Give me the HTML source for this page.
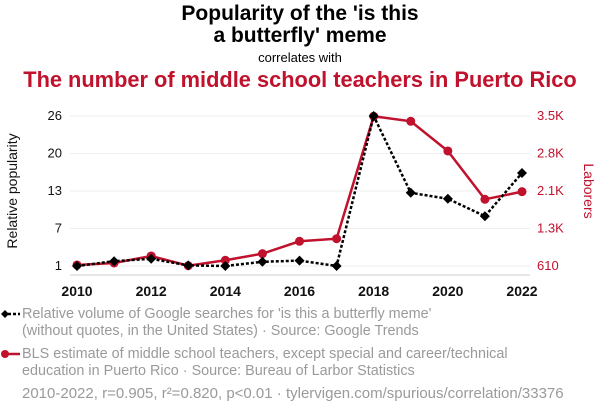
<!DOCTYPE html>
<html><head><meta charset="utf-8"><style>
body{margin:0;width:600px;height:414px;background:#fff;font-family:"Liberation Sans",sans-serif;overflow:hidden;position:relative}
.t{position:absolute;left:0;width:600px;text-align:center}
.lg{position:absolute;left:22px;color:#9a9a9a;font-size:14.4px;line-height:17px;white-space:nowrap}
</style></head><body>
<div class="t" style="top:3px;font-size:21px;font-weight:bold;line-height:22px">Popularity of the 'is this<br>a butterfly' meme</div>
<div class="t" style="top:50px;font-size:13px">correlates with</div>
<div class="t" style="top:67px;font-size:21.8px;font-weight:bold;color:#c0112d">The number of middle school teachers in Puerto Rico</div>
<svg id="c" width="600" height="414" style="position:absolute;left:0;top:0"></svg>
<div class="lg" style="top:306px">Relative volume of Google searches for 'is this a butterfly meme'<br>(without quotes, in the United States) · Source: Google Trends</div>
<div class="lg" style="top:346px">BLS estimate of middle school teachers, except special and career/technical<br>education in Puerto Rico · Source: Bureau of Larbor Statistics</div>
<div class="lg" style="top:385px;font-size:15px">2010-2022, r=0.905, r²=0.820, p&lt;0.01 · tylervigen.com/spurious/correlation/33376</div>
<script>
const years=[2010,2011,2012,2013,2014,2015,2016,2017,2018,2019,2020,2021,2022];
const google=[1,1.8,2.2,1.1,1,1.7,1.9,1,26,13.2,12.2,9.3,16.5];
const teachers=[630,668,803,616,720,848,1086,1136,3494,3398,2826,1895,2042];
const leftTicks=[1,7,13,20,26];
const rightTickLabels=["610","1.3K","2.1K","2.8K","3.5K"];
const xTicks=[2010,2012,2014,2016,2018,2020,2022];
const NS="http://www.w3.org/2000/svg",s=document.getElementById('c');
const x=v=>77+(v-2010)*(522-77)/12;
const yl=v=>266-(v-1)*150/25;
const yr=v=>266-(v-610)*150/(3500-610);
function el(t,a,p){const e=document.createElementNS(NS,t);for(const k in a)e.setAttribute(k,a[k]);(p||s).appendChild(e);return e;}
leftTicks.forEach((t,i)=>{
const y=266-i*150/(leftTicks.length-1);
const g=el('line',{x1:70,x2:530,y1:y,y2:y,stroke:'#eee'});


const a=el('text',{x:62,y:y+4,'text-anchor':'end','font-size':13,fill:'#111'});a.textContent=t;


const b=el('text',{x:537,y:y+4,'font-size':13,fill:'#c0112d'});b.textContent=rightTickLabels[i];


});
const ax=el('line',{x1:70,x2:530,y1:275,y2:275,stroke:'#ccc'});


xTicks.forEach(t=>{const e=el('text',{x:x(t),y:296,'text-anchor':'middle','font-size':14,'font-weight':'bold',fill:'#111'});e.textContent=t;

});
const yt=el('text',{x:0,y:0,transform:'translate(17,191) rotate(-90)','text-anchor':'middle','font-size':14,fill:'#111'});yt.textContent='Relative popularity';


const yt2=el('text',{x:0,y:0,transform:'translate(584,191) rotate(90)','text-anchor':'middle','font-size':14,fill:'#c0112d'});yt2.textContent='Laborers';


const rl=el('polyline',{points:years.map((v,i)=>x(v)+','+yr(teachers[i])).join(' '),fill:'none',stroke:'#c0112d','stroke-width':2.5});


years.forEach((v,i)=>{const c=el('circle',{cx:x(v),cy:yr(teachers[i]),r:4.5,fill:'#c0112d'});

});
const bl=el('polyline',{points:years.map((v,i)=>x(v)+','+yl(google[i])).join(' '),fill:'none',stroke:'#000','stroke-width':2.5,'stroke-dasharray':'3,2'});


years.forEach((v,i)=>{const cx=x(v),cy=yl(google[i]);const p=el('polygon',{points:`${cx},${cy-5} ${cx+5},${cy} ${cx},${cy+5} ${cx-5},${cy}`,fill:'#000'});

});
const k1=el('line',{x1:3,x2:20,y1:314,y2:314,stroke:'#000','stroke-width':2.5,'stroke-dasharray':'3,2'});


el('polygon',{points:'5,310 9,314 5,318 1,314',fill:'#000'});
const k2=el('line',{x1:3,x2:20,y1:354,y2:354,stroke:'#c0112d','stroke-width':2.5});


el('circle',{cx:5,cy:354,r:4,fill:'#c0112d'});
</script>
</body></html>
